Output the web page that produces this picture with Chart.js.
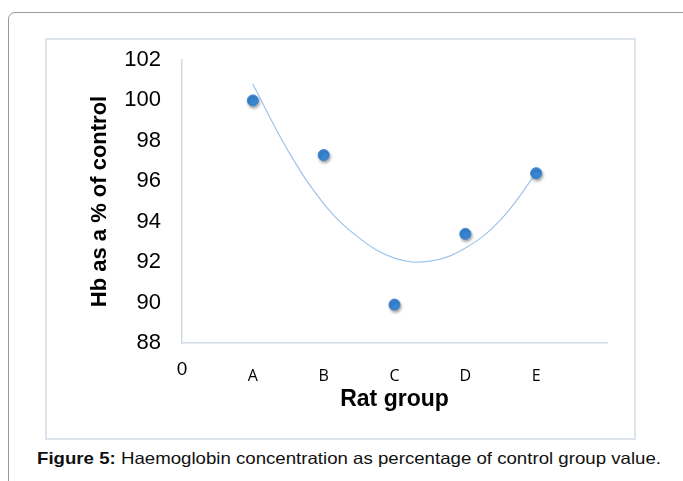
<!DOCTYPE html>
<html>
<head>
<meta charset="utf-8">
<script src="https://cdn.jsdelivr.net/npm/chart.js@4"></script>
<style>
  body { margin: 0; background: #fff; width: 683px; height: 481px; overflow: hidden; position: relative; }
  #frame { position: absolute; left: 8px; top: 12px; width: 700px; height: 520px; border: 1px solid #9a9a9a; border-radius: 7px; }
  #box { position: absolute; left: 45px; top: 38px; width: 587px; height: 398px; border: 2px solid #dde4ec; }
  #box canvas { display: block; }
  #caption { position: absolute; left: 37px; top: 449px; font: 16.5px "Liberation Sans", Arial, sans-serif; color: #111; white-space: nowrap; transform: scaleX(1.13); transform-origin: 0 0; }
</style>
</head>
<body>
<div id="frame"></div>
<div id="box"><canvas id="c" width="587" height="398"></canvas></div>
<div id="caption"><b>Figure 5:</b> Haemoglobin concentration as percentage of control group value.</div>
<script>
// rat groups and Hb (% of control)
const groups = ['A', 'B', 'C', 'D', 'E'];
const hbPercent = [100, 97.3, 89.9, 93.4, 96.4];

// polynomial trendline
const trendX = [1, 1.5, 2, 2.5, 3, 3.5, 4, 4.5, 5];
const trendY = [100.8, 97.5, 94.9, 93.2, 92.2, 92.05, 92.7, 94.1, 96.4];

const xTickLabels = ['0', 'A', 'B', 'C', 'D', 'E', ''];

const axisColor = '#d3dbe6';

const shadow = {
    id: 'shadow',
    beforeDatasetDraw(chart, args) {
        if (args.index !== 0) return;
        const ctx = chart.ctx;
        ctx.save();
        ctx.shadowColor = 'rgba(0,0,0,0.35)';
        ctx.shadowBlur = 3;
        ctx.shadowOffsetX = 1;
        ctx.shadowOffsetY = 2;
    },
    afterDatasetDraw(chart, args) {
        if (args.index !== 0) return;
        chart.ctx.restore();
    }
};

new Chart(document.getElementById('c').getContext('2d'), {
    type: 'scatter',
    data: {
        datasets: [{
            label: 'Hb',
            data: groups.map((g, i) => ({x: i + 1, y: hbPercent[i]})),
            backgroundColor: '#3a86d2',
            borderColor: '#3a86d2',
            pointRadius: 5.5,
            pointHoverRadius: 5.5
        }, {
            label: 'Trend',
            data: trendX.map((x, i) => ({x: x, y: trendY[i]})),
            showLine: true,
            borderColor: '#9dc4ec',
            borderWidth: 1.2,
            pointRadius: 0,
            tension: 0.4,
            fill: false
        }]
    },
    options: {
        responsive: false,
        animation: false,
        layout: { padding: { top: 20, right: 27, left: 0, bottom: 0 } },
        plugins: {
            legend: { display: false },
            tooltip: { enabled: false }
        },
        scales: {
            x: {
                type: 'linear',
                min: 0,
                max: 6,
                afterFit: (s) => { s.height = 95; },
                grid: { display: false, drawTicks: false },
                border: { display: true, color: axisColor, width: 1.5 },
                ticks: {
                    stepSize: 1,
                    padding: 14,
                    autoSkip: false,
                    maxRotation: 0,
                    color: '#000',
                    callback: (v) => xTickLabels[v],
                    font: (ctx) => ctx.index === 0
                        ? { family: '"Liberation Sans", Arial, sans-serif', size: 19, lineHeight: 1.368 }
                        : { family: '"Open Sans", "DejaVu Sans", sans-serif', size: 16, lineHeight: 2.375 }
                },
                title: {
                    display: true,
                    text: 'Rat group',
                    color: '#000',
                    padding: { top: 0, bottom: 25 },
                    font: { family: '"Liberation Sans", Arial, sans-serif', size: 23, weight: 'bold', lineHeight: 1.2 }
                }
            },
            y: {
                min: 88,
                max: 102,
                afterFit: (s) => { s.width = 135; s.paddingTop = 0; s.paddingBottom = 0; },
                grid: { display: false, drawTicks: false },
                border: { display: true, color: axisColor, width: 1.5 },
                ticks: {
                    stepSize: 2,
                    padding: 21,
                    color: '#000',
                    font: { family: '"Liberation Sans", Arial, sans-serif', size: 22 }
                },
                title: {
                    display: true,
                    text: 'Hb as a % of control',
                    color: '#000',
                    padding: { top: 40, bottom: 0 },
                    font: { family: '"Liberation Sans", Arial, sans-serif', size: 22, weight: 'bold', lineHeight: 1.2 }
                }
            }
        }
    },
    plugins: [shadow]
});
</script>
</body>
</html>
